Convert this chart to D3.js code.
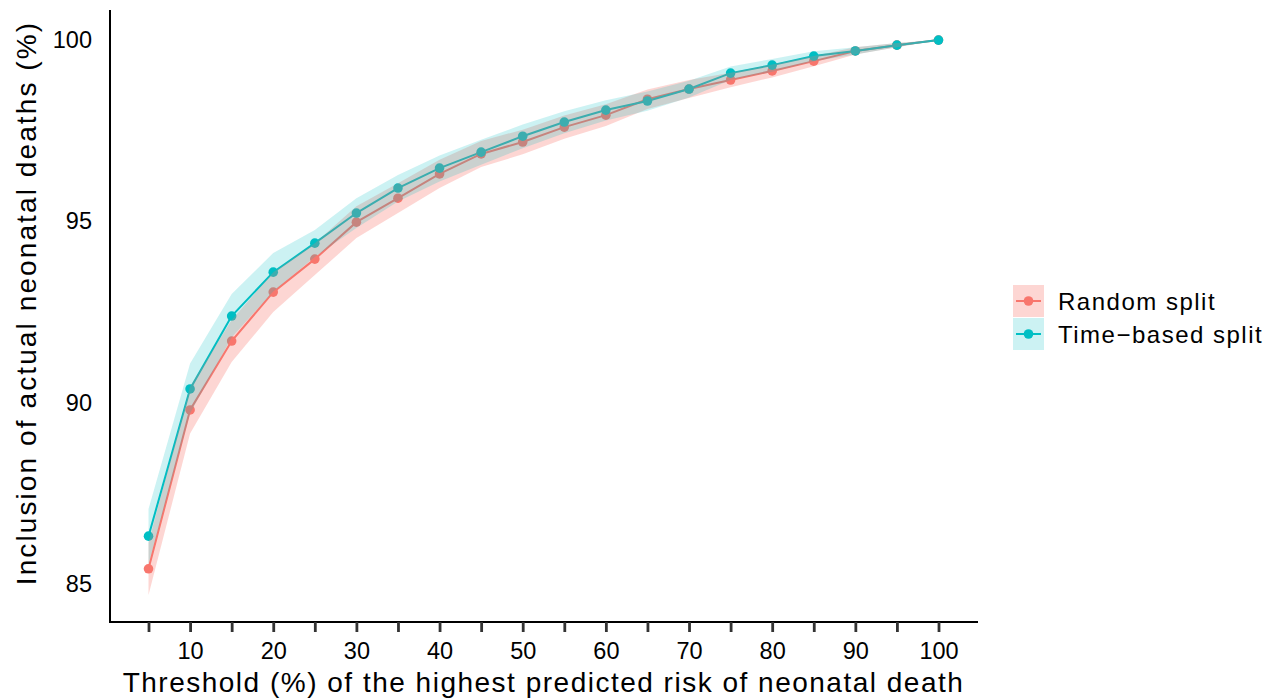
<!DOCTYPE html>
<html>
<head>
<meta charset="utf-8">
<script src="https://cdn.jsdelivr.net/npm/d3@7"></script>
<style>
  body { margin: 0; background: #fff; }
  svg { font-family: "Liberation Sans", Arial, sans-serif; }
</style>
</head>
<body>
<div id="chart"></div>
<script>
const thresholds = [5, 10, 15, 20, 25, 30, 35, 40, 45, 50, 55, 60, 65, 70, 75, 80, 85, 90, 95, 100]
const randomSplit = [85.42, 89.80, 91.70, 93.05, 93.96, 94.98, 95.64, 96.31, 96.86, 97.19, 97.60, 97.93, 98.37, 98.65, 98.90, 99.15, 99.42, 99.70, 99.86, 100]
const randomLow   = [84.70, 89.15, 91.12, 92.50, 93.52, 94.54, 95.23, 95.92, 96.50, 96.85, 97.28, 97.63, 98.10, 98.40, 98.70, 98.97, 99.28, 99.60, 99.80, 100]
const randomHigh  = [86.14, 90.45, 92.28, 93.60, 94.40, 95.42, 96.05, 96.70, 97.22, 97.53, 97.92, 98.23, 98.64, 98.90, 99.10, 99.33, 99.56, 99.80, 99.92, 100]
const timeSplit   = [86.32, 90.38, 92.39, 93.60, 94.40, 95.23, 95.92, 96.47, 96.91, 97.35, 97.74, 98.07, 98.32, 98.65, 99.09, 99.31, 99.56, 99.70, 99.86, 100]
const timeLow     = [85.55, 89.70, 91.80, 93.07, 94.02, 94.82, 95.55, 96.10, 96.56, 97.02, 97.43, 97.78, 98.05, 98.42, 98.90, 99.13, 99.42, 99.60, 99.80, 100]
const timeHigh    = [87.07, 91.08, 93.00, 94.13, 94.76, 95.64, 96.28, 96.82, 97.25, 97.67, 98.04, 98.34, 98.58, 98.88, 99.27, 99.48, 99.69, 99.80, 99.92, 100]
const xTicks = [10, 20, 30, 40, 50, 60, 70, 80, 90, 100]
const yTicks = [85, 90, 95, 100]

const series = [
  { name: "Random split", color: "#F8766D", alpha: 0.3, values: randomSplit, low: randomLow, high: randomHigh },
  { name: "Time\u2212based split", color: "#00BFC4", alpha: 0.2, values: timeSplit, low: timeLow, high: timeHigh }
]

const width = 1279
const height = 700

const svg = d3.select("#chart").append("svg")
  .attr("width", width)
  .attr("height", height)

const x = d3.scaleLinear().domain([0.25, 104.75]).range([109, 978])
const y = d3.scaleLinear().domain([83.98, 100.83]).range([621, 10])

const plot = svg.append("g")

// lines and points first, ribbons drawn over them like in the original
const line = d3.line()
  .x((d, i) => x(thresholds[i]))
  .y(d => y(d))

series.forEach(s => {
  plot.append("path")
    .attr("d", line(s.values))
    .attr("fill", "none")
    .attr("stroke", s.color)
    .attr("stroke-width", 2)
})

series.forEach(s => {
  plot.selectAll(null)
    .data(s.values)
    .enter()
    .append("circle")
    .attr("cx", (d, i) => x(thresholds[i]))
    .attr("cy", d => y(d))
    .attr("r", 4.8)
    .attr("fill", s.color)
})

const area = d3.area()
  .x(d => x(d.t))
  .y0(d => y(d.lo))
  .y1(d => y(d.hi))

series.forEach(s => {
  const rows = thresholds.map((t, i) => ({ t: t, lo: s.low[i], hi: s.high[i] }))
  plot.append("path")
    .attr("d", area(rows))
    .attr("fill", s.color)
    .attr("fill-opacity", s.alpha)
})

// x axis
const xAxis = svg.append("g")
  .attr("transform", "translate(0,622)")
  .call(d3.axisBottom(x).tickValues(thresholds).tickSize(10).tickFormat(d => xTicks.includes(d) ? d : ""))
xAxis.select(".domain").attr("stroke", "#000").attr("stroke-width", 2)
  .attr("d", `M${x.range()[0]},0H${x.range()[1]}`)
xAxis.selectAll(".tick line").attr("stroke", "#333").attr("stroke-width", 2.8)
xAxis.selectAll(".tick text")
  .attr("y", 20)
  .attr("fill", "#000")
  .style("font-size", "23.5px")
  .attr("dy", "0.71em")

// y axis, no tick marks
const yAxis = svg.append("g")
  .attr("transform", "translate(110,0)")
  .call(d3.axisLeft(y).tickValues(yTicks).tickSize(0).tickPadding(18))
yAxis.select(".domain").attr("stroke", "#000").attr("stroke-width", 2)
  .attr("d", `M0,${y.range()[1]}V${y.range()[0] + 1}`)
yAxis.selectAll(".tick text")
  .attr("fill", "#000")
  .style("font-size", "23.5px")

// axis titles
svg.append("text")
  .attr("x", (x.range()[0] + x.range()[1]) / 2)
  .attr("y", 692)
  .attr("text-anchor", "middle")
  .style("font-size", "28px")
  .style("letter-spacing", "1.5px")
  .text("Threshold (%) of the highest predicted risk of neonatal death")

svg.append("text")
  .attr("transform", "translate(36,303) rotate(-90)")
  .attr("text-anchor", "middle")
  .style("font-size", "28px")
  .style("letter-spacing", "2.1px")
  .text("Inclusion of actual neonatal deaths (%)")

// legend
const legend = svg.append("g")
  .attr("transform", "translate(1013,285)")

series.forEach((s, i) => {
  const g = legend.append("g").attr("transform", `translate(0,${i * 33})`)
  g.append("rect")
    .attr("width", 31)
    .attr("height", 32)
    .attr("fill", s.color)
    .attr("fill-opacity", s.alpha)
  g.append("line")
    .attr("x1", 3).attr("x2", 28)
    .attr("y1", 16).attr("y2", 16)
    .attr("stroke", s.color)
    .attr("stroke-width", 2)
  g.append("circle")
    .attr("cx", 15.5).attr("cy", 16).attr("r", 4.8)
    .attr("fill", s.color)
  g.append("text")
    .attr("x", 45)
    .attr("y", 16)
    .attr("dy", "0.36em")
    .style("font-size", "24px")
    .style("letter-spacing", "1.5px")
    .text(s.name)
})
</script>
</body>
</html>
